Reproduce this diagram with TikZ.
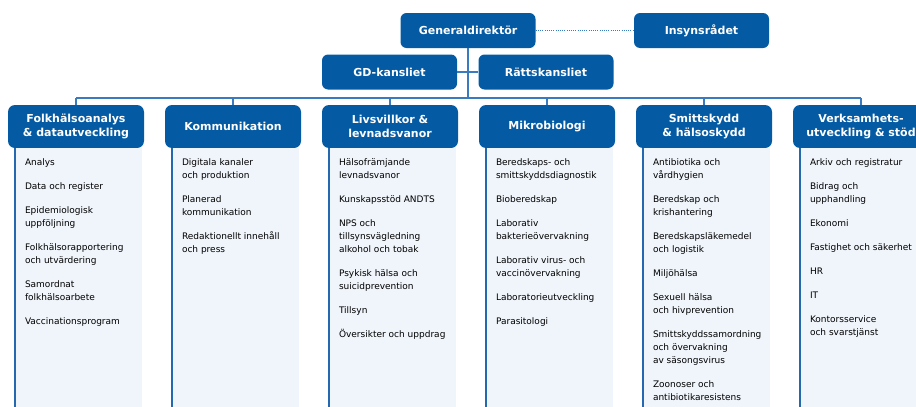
\documentclass[tikz,border=0pt]{standalone}
\usepackage{fontspec}
\setmainfont{DejaVu Sans}
\usepackage{xcolor}
\usetikzlibrary{positioning}

\definecolor{fhmblue}{RGB}{4,91,164}
\definecolor{linkblue}{RGB}{58,122,190}
\definecolor{panelfill}{RGB}{240,245,251}
\definecolor{panelline}{RGB}{36,104,176}

\newcommand{\nextitem}{\\[11pt]}
\newcommand{\firstline}{\rule{0pt}{8pt}}

\tikzset{
  topbox/.style={fill=fhmblue, text=white, rounded corners=6pt, inner sep=0pt,
    minimum width=135pt, minimum height=35pt, align=center,
    font=\fontsize{11}{13.5}\selectfont\bfseries},
  headbox/.style={topbox, minimum width=136pt, minimum height=43pt, rounded corners=7pt},
  unitlist/.style={anchor=north west, align=left, inner sep=0pt,
    font=\fontsize{9}{13}\selectfont},
  link/.style={draw=linkblue, line width=1.6pt},
}

\begin{document}
\begin{tikzpicture}[x=1pt,y=-1pt]
    \useasboundingbox (0,0) rectangle (916,407);
    \clip (0,0) rectangle (916,407);
    % ledning
    \node[topbox] (gd) at (468,30.5) {Generaldirektör};
    \node[topbox] (insyn) at (701.5,30.5) {Insynsrådet};
    \node[topbox] (gdk) at (389.5,72) {GD-kansliet};
    \node[topbox] (ratt) at (546,72) {Rättskansliet};
    \coordinate (bus) at (468,98);
    \draw[linkblue, line width=1pt, dash pattern=on 1pt off 1.2pt] (gd) -- (insyn);
    \draw[link] (gd) -- (bus);
    \draw[link] (gdk) -- (ratt);
    % avdelningar
    \node[headbox] (fha) at (76,126.5) {Folkhälsoanalys\\\& datautveckling};
    \node[headbox] (kom) at (233,126.5) {Kommunikation};
    \node[headbox] (liv) at (390,126.5) {Livsvillkor \&\\levnadsvanor};
    \node[headbox] (mik) at (547,126.5) {Mikrobiologi};
    \node[headbox] (smi) at (704,126.5) {Smittskydd\\\& hälsoskydd};
    \node[headbox] (ver) at (861,126.5) {Verksamhets-\\utveckling \& stöd};
    \draw[link] (fha.north |- bus) -- (ver.north |- bus);
    \foreach \n in {fha,kom,liv,mik,smi,ver}{
        \fill[panelfill] ([xshift=7pt]\n.south west) rectangle ([xshift=-2pt]\n.south east |- 0,407);
        \draw[panelline, line width=1.4pt] ([xshift=7pt]\n.south west) -- ([xshift=7pt]\n.south west |- 0,407);
        \draw[link] (\n.north) -- (\n.north |- bus);
    }
    % enheter
    \node[unitlist] (fhalist) at ([shift={(17,9)}]fha.south west) {\firstline Analys\nextitem
        Data och register\nextitem
        Epidemiologisk\\uppföljning\nextitem
        Folkhälsorapportering\\och utvärdering\nextitem
        Samordnat\\folkhälsoarbete\nextitem
        Vaccinationsprogram};
    \node[unitlist] (komlist) at ([shift={(17,9)}]kom.south west) {\firstline Digitala kanaler\\och produktion\nextitem
        Planerad\\kommunikation\nextitem
        Redaktionellt innehåll\\och press};
    \node[unitlist] (livlist) at ([shift={(17,9)}]liv.south west) {\firstline Hälsofrämjande\\levnadsvanor\nextitem
        Kunskapsstöd ANDTS\nextitem
        NPS och\\tillsynsvägledning\\alkohol och tobak\nextitem
        Psykisk hälsa och\\suicidprevention\nextitem
        Tillsyn\nextitem
        Översikter och uppdrag};
    \node[unitlist] (miklist) at ([shift={(17,9)}]mik.south west) {\firstline Beredskaps- och\\smittskyddsdiagnostik\nextitem
        Bioberedskap\nextitem
        Laborativ\\bakterieövervakning\nextitem
        Laborativ virus- och\\vaccinövervakning\nextitem
        Laboratorieutveckling\nextitem
        Parasitologi};
    \node[unitlist] (smilist) at ([shift={(17,9)}]smi.south west) {\firstline Antibiotika och\\vårdhygien\nextitem
        Beredskap och\\krishantering\nextitem
        Beredskapsläkemedel\\och logistik\nextitem
        Miljöhälsa\nextitem
        Sexuell hälsa\\och hivprevention\nextitem
        Smittskyddssamordning\\och övervakning\\av säsongsvirus\nextitem
        Zoonoser och\\antibiotikaresistens};
    \node[unitlist] (verlist) at ([shift={(17,9)}]ver.south west) {\firstline Arkiv och registratur\nextitem
        Bidrag och\\upphandling\nextitem
        Ekonomi\nextitem
        Fastighet och säkerhet\nextitem
        HR\nextitem
        IT\nextitem
        Kontorsservice\\och svarstjänst};
\end{tikzpicture}
\end{document}
